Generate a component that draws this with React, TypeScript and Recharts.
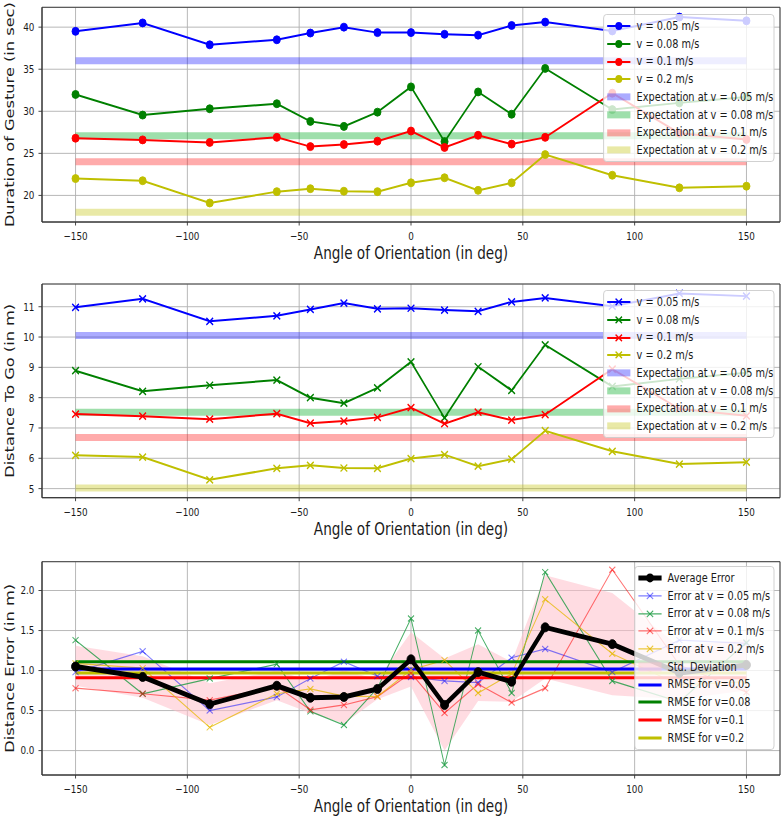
import React from 'react';
import {
  ComposedChart,
  Line,
  Area,
  XAxis,
  YAxis,
  CartesianGrid,
  Legend,
  Label,
  ReferenceArea,
} from 'recharts';

// ---------- data ----------
const angles = [-150, -120, -90, -60, -45, -30, -15, 0, 15, 30, 45, 60, 90, 120, 150];
const xTicks = [-150, -100, -50, 0, 50, 100, 150];
const speedLabels = ['0.05', '0.08', '0.1', '0.2'];

// Panel 1: Duration of Gesture (s)
const durV005 = [39.5, 40.5, 37.9, 38.5, 39.3, 40.0, 39.35, 39.35, 39.15, 39.05, 40.2, 40.6, 39.55, 41.2, 40.75];
const durV008 = [32.0, 29.55, 30.3, 30.9, 28.8, 28.2, 29.9, 32.9, 26.4, 32.3, 29.65, 35.1, 30.2, 31.0, 31.7];
const durV01 = [26.8, 26.6, 26.3, 26.9, 25.8, 26.05, 26.45, 27.65, 25.7, 27.15, 26.1, 26.9, 32.15, 27.4, 26.65];
const durV02 = [22.0, 21.75, 19.1, 20.45, 20.8, 20.5, 20.45, 21.5, 22.1, 20.6, 21.5, 24.85, 22.4, 20.9, 21.1];
const durExpect = [36.0, 27.1, 24.0, 18.0];
const durTicks = [20, 25, 30, 35, 40];

// Panel 2: Distance To Go (m)
const distV005 = [10.98, 11.26, 10.52, 10.7, 10.91, 11.12, 10.93, 10.95, 10.89, 10.85, 11.16, 11.29, 11.02, 11.44, 11.35];
const distV008 = [8.89, 8.21, 8.41, 8.58, 8.0, 7.82, 8.32, 9.18, 7.33, 9.02, 8.24, 9.74, 8.37, 8.62, 8.82];
const distV01 = [7.46, 7.39, 7.29, 7.47, 7.16, 7.23, 7.35, 7.67, 7.14, 7.52, 7.26, 7.44, 8.94, 7.63, 7.4];
const distV02 = [6.1, 6.04, 5.29, 5.67, 5.77, 5.68, 5.67, 5.99, 6.12, 5.74, 5.97, 6.91, 6.23, 5.81, 5.87];
const distExpect = [10.05, 7.52, 6.69, 5.02];
const distTicks = [5, 6, 7, 8, 9, 10, 11];

// Panel 3: Distance Error (m)
const errAvg = [1.05, 0.92, 0.58, 0.81, 0.66, 0.67, 0.77, 1.14, 0.57, 0.98, 0.86, 1.54, 1.33, 0.97, 1.07];
const errV005 = [0.98, 1.24, 0.5, 0.67, 0.9, 1.11, 0.93, 0.92, 0.87, 0.85, 1.16, 1.27, 0.98, 1.38, 1.34];
const errV008 = [1.38, 0.71, 0.9, 1.08, 0.49, 0.32, 0.78, 1.65, -0.18, 1.5, 0.72, 2.23, 0.87, 0.61, 1.35];
const errV01 = [0.78, 0.71, 0.63, 0.8, 0.51, 0.57, 0.675, 0.97, 0.47, 0.83, 0.6, 0.78, 2.26, 1.07, 0.73];
const errV02 = [1.09, 1.03, 0.29, 0.71, 0.77, 0.68, 0.675, 1.01, 1.13, 0.72, 0.96, 1.89, 1.21, 0.82, 0.86];
const errStdLow = [0.81, 0.66, 0.32, 0.63, 0.47, 0.34, 0.64, 0.8, 0.0, 0.62, 0.61, 0.9, 0.69, 0.64, 0.75];
const errStdHigh = [1.31, 1.18, 0.84, 1.0, 0.87, 1.0, 0.89, 1.48, 1.15, 1.33, 1.11, 2.19, 1.97, 1.3, 1.39];
const rmse = [1.02, 1.11, 0.91, 0.97];
const errTicks = [0, 0.5, 1, 1.5, 2];

// ---------- styling ----------
const FONT = "'DejaVu Sans', sans-serif";
const S = 0.8; // horizontal compression of the whole figure
const W = 978;
const speedColors = ['#0000ff', '#008000', '#ff0000', '#bfbf00'];
const bandColors = ['#0000ff', '#00aa22', '#ff0000', '#bfbf00'];
const bandOpacity = [0.33, 0.38, 0.33, 0.35];
const errColors = ['#0000ff', '#1a9a40', '#ff0000', '#e6b800'];
const errOpacity = [0.5, 0.8, 0.55, 0.75];
const ROW = 17.75;

const durRows = angles.map((a, i) => ({
  angle: a,
  s0: durV005[i], s1: durV008[i], s2: durV01[i], s3: durV02[i],
  e0: durExpect[0], e1: durExpect[1], e2: durExpect[2], e3: durExpect[3],
}));
const distRows = angles.map((a, i) => ({
  angle: a,
  s0: distV005[i], s1: distV008[i], s2: distV01[i], s3: distV02[i],
  e0: distExpect[0], e1: distExpect[1], e2: distExpect[2], e3: distExpect[3],
}));
const errRows = angles.map((a, i) => ({
  angle: a,
  avg: errAvg[i],
  s0: errV005[i], s1: errV008[i], s2: errV01[i], s3: errV02[i],
  band: [errStdLow[i], errStdHigh[i]],
  r0: rmse[0], r1: rmse[1], r2: rmse[2], r3: rmse[3],
}));

const fmtX = (v: number) => (v < 0 ? `\u2212${-v}` : `${v}`);
const fmtInt = (v: number) => `${v}`;
const fmt1 = (v: number) => v.toFixed(1);

// ---------- marks ----------
const ellipseDot = (color: string, rx: number, ry: number) => (p: any) =>
  p.cx == null || p.cy == null ? (
    <g key={`d${p.index}`} />
  ) : (
    <ellipse key={`d${p.index}`} cx={p.cx} cy={p.cy} rx={rx} ry={ry} fill={color} stroke={color} strokeWidth={1} />
  );

const crossPath = (cx: number, cy: number, hx: number, hy: number) =>
  `M${cx - hx},${cy - hy}L${cx + hx},${cy + hy}M${cx - hx},${cy + hy}L${cx + hx},${cy - hy}`;

const crossDot = (color: string, hx: number, hy: number, sw: number, op: number) => (p: any) =>
  p.cx == null || p.cy == null ? (
    <g key={`x${p.index}`} />
  ) : (
    <path key={`x${p.index}`} d={crossPath(p.cx, p.cy, hx, hy)} stroke={color} strokeWidth={sw} strokeOpacity={op} fill="none" />
  );

// ---------- legend ----------
type Item = { label: string; kind: string; color: string; op?: number };

const handle = (it: Item) => {
  const cy = ROW / 2;
  const c = it.color;
  switch (it.kind) {
    case 'lineDot':
      return (
        <g>
          <line x1={4} x2={33} y1={cy} y2={cy} stroke={c} strokeWidth={2} />
          <ellipse cx={18.5} cy={cy} rx={4.4} ry={4} fill={c} />
        </g>
      );
    case 'lineX':
      return (
        <g>
          <line x1={4} x2={33} y1={cy} y2={cy} stroke={c} strokeWidth={2} />
          <path d={crossPath(18.5, cy, 4, 3.2)} stroke={c} strokeWidth={1.6} fill="none" />
        </g>
      );
    case 'band':
      return <rect x={4} y={cy - 3.5} width={29} height={7} fill={c} fillOpacity={it.op} />;
    case 'avg':
      return (
        <g>
          <line x1={4} x2={33} y1={cy} y2={cy} stroke={c} strokeWidth={5} />
          <ellipse cx={18.5} cy={cy} rx={5} ry={4.5} fill={c} />
        </g>
      );
    case 'errX':
      return (
        <g>
          <line x1={4} x2={33} y1={cy} y2={cy} stroke={c} strokeWidth={1.2} strokeOpacity={it.op} />
          <path d={crossPath(18.5, cy, 4, 3.2)} stroke={c} strokeWidth={1.2} strokeOpacity={it.op} fill="none" />
        </g>
      );
    case 'patch':
      return <rect x={4} y={cy - 4.5} width={29} height={9} fill={c} fillOpacity={it.op} />;
    default:
      return <line x1={4} x2={33} y1={cy} y2={cy} stroke={c} strokeWidth={3} />;
  }
};

const LegendBox = ({ items, width }: { items: Item[]; width: number }) => (
  <div
    style={{
      width,
      boxSizing: 'border-box',
      background: 'rgba(255,255,255,0.8)',
      border: '1px solid #cccccc',
      borderRadius: 4,
      padding: '2px 0',
      fontFamily: FONT,
      fontSize: 12.2,
      color: '#1a1a1a',
      lineHeight: 'normal',
    }}
  >
    {items.map((it, i) => (
      <div key={i} style={{ height: ROW, display: 'flex', alignItems: 'center' }}>
        <svg width={41} height={ROW} style={{ flex: 'none', display: 'block' }}>
          {handle(it)}
        </svg>
        <span style={{ whiteSpace: 'nowrap' }}>{it.label}</span>
      </div>
    ))}
  </div>
);

const legendTop = (kind: string): Item[] => [
  ...speedLabels.map((s, i) => ({ label: `v = ${s} m/s`, kind, color: speedColors[i] })),
  ...speedLabels.map((s, i) => ({
    label: `Expectation at v = ${s} m/s`,
    kind: 'band',
    color: bandColors[i],
    op: bandOpacity[i],
  })),
];

const legendErr: Item[] = [
  { label: 'Average Error', kind: 'avg', color: '#000000' },
  ...speedLabels.map((s, i) => ({ label: `Error at v = ${s} m/s`, kind: 'errX', color: errColors[i], op: errOpacity[i] })),
  { label: 'Std. Deviation', kind: 'patch', color: '#ffc0cb', op: 0.45 },
  ...speedLabels.map((s, i) => ({ label: `RMSE for v=${s}`, kind: 'solid', color: speedColors[i] })),
];

// ---------- axis titles ----------
const xTitle = (props: any) => {
  const vb = props.viewBox ?? { x: 52.5, y: 0, width: 922.5, height: 30 };
  return (
    <text x={vb.x + vb.width / 2} y={vb.y + 37.3} textAnchor="middle" fontSize={17} fontFamily={FONT} fill="#1a1a1a">
      Angle of Orientation (in deg)
    </text>
  );
};

const yTitle = (title: string) => (props: any) => {
  const vb = props.viewBox ?? { x: 0, y: 0, width: 52.5, height: 214 };
  const cy = vb.y + vb.height / 2;
  return (
    <text
      x={17}
      y={cy}
      transform={`rotate(-90, 17, ${cy})`}
      textAnchor="middle"
      fontSize={16.2}
      fontFamily={FONT}
      fill="#1a1a1a"
    >
      {title}
    </text>
  );
};

// ---------- panel shell ----------
type PanelProps = {
  top: number;
  height: number;
  mTop: number;
  mBottom: number;
  rows: any[];
  yDomain: [number, number];
  yTicks: number[];
  yFmt: (v: number) => string;
  yLabel: string;
  legend: React.ReactNode;
  legendLeft: number;
  legendTop: number;
  legendWidth: number;
  children: React.ReactNode;
};

const tickStyle = { fontSize: 11, fill: '#1a1a1a', fontFamily: FONT };

const Panel = (p: PanelProps) => (
  <div style={{ position: 'absolute', left: 0, top: p.top, width: W, height: p.height }}>
    <ComposedChart
      width={W}
      height={p.height}
      data={p.rows}
      margin={{ top: p.mTop, right: 3, bottom: p.mBottom, left: 0 }}
    >
      <CartesianGrid stroke="#b0b0b0" strokeWidth={1} />
      <XAxis
        dataKey="angle"
        type="number"
        domain={[-165, 165]}
        ticks={xTicks}
        interval={0}
        tickFormatter={fmtX}
        tick={tickStyle}
        tickSize={3.5}
        tickMargin={6.5}
        height={30}
        axisLine={{ stroke: '#333333' }}
        tickLine={{ stroke: '#333333' }}
        allowDataOverflow
      >
        <Label content={xTitle} />
      </XAxis>
      <YAxis
        type="number"
        domain={p.yDomain}
        ticks={p.yTicks}
        interval={0}
        tickFormatter={p.yFmt}
        tick={tickStyle}
        tickSize={4.4}
        tickMargin={5}
        width={52.5}
        axisLine={{ stroke: '#333333' }}
        tickLine={{ stroke: '#333333' }}
        allowDataOverflow
      >
        <Label content={yTitle(p.yLabel)} />
      </YAxis>
      {p.children}
      <ReferenceArea
        x1={-165}
        x2={165}
        y1={p.yDomain[0]}
        y2={p.yDomain[1]}
        fill="none"
        stroke="#333333"
        strokeWidth={1}
        ifOverflow="visible"
      />
      <Legend
        layout="vertical"
        align="center"
        verticalAlign="middle"
        wrapperStyle={{ left: p.legendLeft, top: p.legendTop, width: p.legendWidth }}
        content={() => p.legend}
      />
    </ComposedChart>
  </div>
);

const keys = ['s0', 's1', 's2', 's3'];
const eKeys = ['e0', 'e1', 'e2', 'e3'];
const rKeys = ['r0', 'r1', 'r2', 'r3'];

export default function App() {
  return (
    <div
      style={{
        position: 'absolute',
        left: 0,
        top: 0,
        width: W,
        height: 817,
        transform: `scaleX(${S})`,
        transformOrigin: '0 0',
        background: '#ffffff',
      }}
    >
      {/* Panel 1 */}
      <Panel
        top={0}
        height={272}
        mTop={7.3}
        mBottom={20}
        rows={durRows}
        yDomain={[16.84, 42.36]}
        yTicks={durTicks}
        yFmt={fmtInt}
        yLabel="Duration of Gesture (in sec)"
        legend={<LegendBox items={legendTop('lineDot')} width={213.75} />}
        legendLeft={753.75}
        legendTop={14}
        legendWidth={213.75}
      >
        {eKeys.map((k, i) => (
          <Line
            key={k}
            dataKey={k}
            stroke={bandColors[i]}
            strokeOpacity={bandOpacity[i]}
            strokeWidth={7}
            dot={false}
            activeDot={false}
            isAnimationActive={false}
            legendType="none"
          />
        ))}
        {keys.map((k, i) => (
          <Line
            key={k}
            dataKey={k}
            stroke={speedColors[i]}
            strokeWidth={2}
            dot={ellipseDot(speedColors[i], 4.4, 4)}
            activeDot={false}
            isAnimationActive={false}
          />
        ))}
      </Panel>

      {/* Panel 2 */}
      <Panel
        top={272}
        height={275}
        mTop={12}
        mBottom={19.3}
        rows={distRows}
        yDomain={[4.7, 11.75]}
        yTicks={distTicks}
        yFmt={fmtInt}
        yLabel="Distance To Go (in m)"
        legend={<LegendBox items={legendTop('lineX')} width={213.75} />}
        legendLeft={753.75}
        legendTop={18}
        legendWidth={213.75}
      >
        {eKeys.map((k, i) => (
          <Line
            key={k}
            dataKey={k}
            stroke={bandColors[i]}
            strokeOpacity={bandOpacity[i]}
            strokeWidth={7}
            dot={false}
            activeDot={false}
            isAnimationActive={false}
            legendType="none"
          />
        ))}
        {keys.map((k, i) => (
          <Line
            key={k}
            dataKey={k}
            stroke={speedColors[i]}
            strokeWidth={2}
            dot={crossDot(speedColors[i], 4.2, 3.5, 1.6, 1)}
            activeDot={false}
            isAnimationActive={false}
          />
        ))}
      </Panel>

      {/* Panel 3 */}
      <Panel
        top={547}
        height={270}
        mTop={14.7}
        mBottom={12}
        rows={errRows}
        yDomain={[-0.305, 2.36]}
        yTicks={errTicks}
        yFmt={fmt1}
        yLabel="Distance Error (in m)"
        legend={<LegendBox items={legendErr} width={175} />}
        legendLeft={792.5}
        legendTop={19}
        legendWidth={175}
      >
        <Area
          dataKey="band"
          stroke="none"
          fill="#ffc0cb"
          fillOpacity={0.55}
          isAnimationActive={false}
          activeDot={false}
        />
        {keys.map((k, i) => (
          <Line
            key={k}
            dataKey={k}
            stroke={errColors[i]}
            strokeOpacity={errOpacity[i]}
            strokeWidth={1.2}
            dot={crossDot(errColors[i], 3.8, 3, 1.2, errOpacity[i])}
            activeDot={false}
            isAnimationActive={false}
          />
        ))}
        {rKeys.map((k, i) => (
          <Line
            key={k}
            dataKey={k}
            stroke={speedColors[i]}
            strokeWidth={3}
            dot={false}
            activeDot={false}
            isAnimationActive={false}
          />
        ))}
        <Line
          dataKey="avg"
          stroke="#000000"
          strokeWidth={5}
          strokeLinejoin="round"
          dot={ellipseDot('#000000', 5, 4.5)}
          activeDot={false}
          isAnimationActive={false}
        />
      </Panel>
    </div>
  );
}
